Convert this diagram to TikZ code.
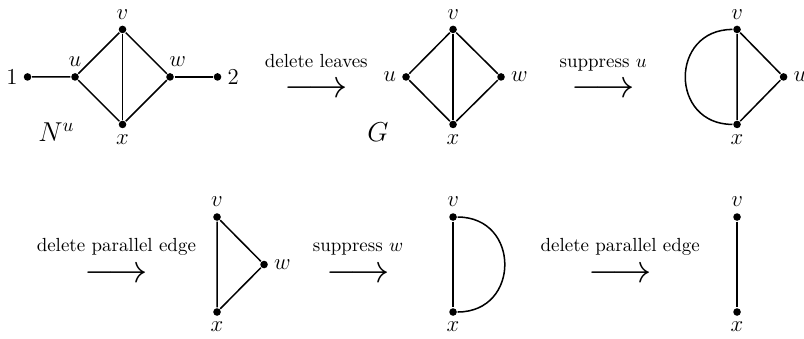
\documentclass[tikz,border=0pt]{standalone}
\begin{document}
\begin{tikzpicture}[x=0.88cm,y=0.88cm,thick,
  vert/.style={circle,fill=black,inner sep=0pt,minimum size=4pt},
  every label/.style={font=\large,inner sep=2.5pt},
  opnode/.style={align=center,anchor=base,inner sep=0pt}]
  \useasboundingbox (0,0) rectangle (16.93,7.12);

  % Operations (text above, long arrow below)
  \foreach \lab/\tx/\ty [count=\i] in {delete leaves/6.66/5.07,
      suppress $u$/12.70/5.07,
      delete parallel edge/2.45/1.18,
      suppress $w$/7.54/1.18,
      delete parallel edge/13.06/1.18} {
    \node[opnode] (op\i) at (\tx,\ty) {\lab\\[4pt]{\fontsize{22}{24}\selectfont$\longrightarrow$}};
  }

  % N^u
  \node[vert,label=left:1] (one) at (0.58,5.5) {};
  \node[vert,label=above:$u$] (u1) at (1.58,5.5) {};
  \node[vert,label=above:$v$] (v1) at (2.58,6.5) {};
  \node[vert,label={[xshift=4pt]above:$w$}] (w1) at (3.58,5.5) {};
  \node[vert,label=below:$x$] (x1) at (2.58,4.5) {};
  \node[vert,label=right:2] (two) at (4.58,5.5) {};
  \node[anchor=base,font=\Large] (Nu) at (1.19,4.14) {$N^u$};
  \draw (one) -- (u1) -- (v1) -- (w1) -- (x1) -- (u1);
  \draw (v1) -- (x1);
  \draw (w1) -- (two);

  % G
  \node[vert,label=left:$u$] (u2) at (8.55,5.5) {};
  \node[vert,label=above:$v$] (v2) at (9.54,6.5) {};
  \node[vert,label=right:$w$] (w2) at (10.55,5.5) {};
  \node[vert,label=below:$x$] (x2) at (9.54,4.5) {};
  \node[anchor=base,font=\Large] (G) at (7.96,4.13) {$G$};
  \draw (u2) -- (v2) -- (w2) -- (x2) -- (u2);
  \draw (v2) -- (x2);

  % after suppressing u
  \node[vert,label=above:$v$] (v3) at (15.52,6.5) {};
  \node[vert,label=right:$u$] (u3) at (16.5,5.5) {};
  \node[vert,label=below:$x$] (x3) at (15.52,4.5) {};
  \draw (v3) -- (u3) -- (x3) -- (v3);
  \draw (v3) to[out=180,in=180,looseness=1.7] (x3);

  % triangle
  \node[vert,label=above:$v$] (v4) at (4.57,2.55) {};
  \node[vert,label=right:$w$] (w4) at (5.56,1.55) {};
  \node[vert,label=below:$x$] (x4) at (4.57,0.55) {};
  \draw (v4) -- (w4) -- (x4) -- (v4);

  % double edge
  \node[vert,label=above:$v$] (v5) at (9.54,2.55) {};
  \node[vert,label=below:$x$] (x5) at (9.54,0.55) {};
  \draw (v5) -- (x5);
  \draw (v5) to[out=0,in=0,looseness=1.7] (x5);

  % single edge
  \node[vert,label=above:$v$] (v6) at (15.52,2.55) {};
  \node[vert,label=below:$x$] (x6) at (15.52,0.55) {};
  \draw (v6) -- (x6);
\end{tikzpicture}
\end{document}
